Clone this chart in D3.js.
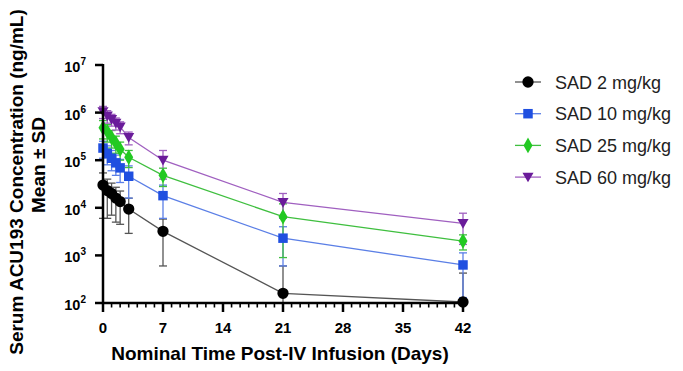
<!DOCTYPE html>
<html lang="en">
<head>
<meta charset="UTF-8">
<title>ACU193 SAD PK</title>
<script src="https://cdn.jsdelivr.net/npm/d3@7"></script>
<style>
  body { margin: 0; padding: 0; background: #fff; }
  svg text { font-family: Arial, "Liberation Sans", sans-serif; }
</style>
</head>
<body>
<div id="chart"></div>
<script>
// nominal days post infusion
var days = [0, 0.5, 1, 1.5, 2, 3, 7, 21, 42];

var seriesNames = ["SAD 2 mg/kg", "SAD 10 mg/kg", "SAD 25 mg/kg", "SAD 60 mg/kg"];

// mean serum concentration, ng/mL
var mean2  = [30000, 23000, 20000, 16000, 13500, 9400, 3200, 160, 105];
var mean10 = [180000, 140000, 110000, 88000, 69000, 46000, 18000, 2300, 630];
var mean25 = [480000, 400000, 300000, 230000, 170000, 115000, 48000, 6500, 2000];
var mean60 = [1050000, 850000, 720000, 600000, 500000, 300000, 100000, 13000, 4700];

// standard deviations
var sd2  = [24000, 17000, 13000, 11000, 9000, 6500, 2600, 440, 320];
var sd10 = [70000, 60000, 50000, 40000, 35000, 30000, 12000, 1700, 500];
var sd25 = [200000, 160000, 120000, 90000, 70000, 45000, 20000, 5600, 700];
var sd60 = [300000, 250000, 200000, 170000, 140000, 90000, 60000, 7000, 3000];

var xTicks = [0, 7, 14, 21, 28, 35, 42];
var yTicks = [2, 3, 4, 5, 6, 7]; // powers of ten

var W = 683, H = 371;
var svg = d3.select("#chart").append("svg")
    .attr("width", W)
    .attr("height", H);

var x = d3.scaleLinear().domain([0, 42]).range([103, 463]);
var y = d3.scaleLog().domain([100, 1e7]).range([303, 65]);

var styles = [
  {mark: "#000000", line: "#555555", shape: d3.symbolCircle, size: 100},
  {mark: "#1f4fe0", line: "#5b7fe6", shape: d3.symbolSquare, size: 90},
  {mark: "#22c922", line: "#3fbf3f", shape: d3.symbolDiamond, size: 70},
  {mark: "#6a1b9a", line: "#a060c0", shape: "tri", size: 80}
];
var means = [mean2, mean10, mean25, mean60];
var sds = [sd2, sd10, sd25, sd60];

function triDown(s) {
  var r = Math.sqrt(s) * 0.62;
  return "M" + (-r) + "," + (-r * 0.8) + "L" + r + "," + (-r * 0.8) + "L0," + (r * 0.95) + "Z";
}
function markPath(st) {
  if (st.shape === "tri") return triDown(st.size);
  return d3.symbol().type(st.shape).size(st.size)();
}

var plot = svg.append("g");

means.forEach(function(m, si) {
  var st = styles[si];
  var pts = days.map(function(d, i) { return {d: d, m: m[i], sd: sds[si][i]}; });
  var g = plot.append("g");

  g.append("path")
    .datum(pts)
    .attr("fill", "none")
    .attr("stroke", st.line)
    .attr("stroke-width", 1.3)
    .attr("d", d3.line().x(function(p) { return x(p.d); }).y(function(p) { return y(p.m); }));

  var bars = g.selectAll(".eb").data(pts).enter().append("g");
  bars.append("line")
    .attr("x1", function(p) { return x(p.d); })
    .attr("x2", function(p) { return x(p.d); })
    .attr("y1", function(p) { return y(p.m + p.sd); })
    .attr("y2", function(p) { return p.m - p.sd > 100 ? y(p.m - p.sd) : y(100); })
    .attr("stroke", st.line)
    .attr("stroke-width", 1.3);
  bars.append("line")
    .attr("x1", function(p) { return x(p.d) - 4; })
    .attr("x2", function(p) { return x(p.d) + 4; })
    .attr("y1", function(p) { return y(p.m + p.sd); })
    .attr("y2", function(p) { return y(p.m + p.sd); })
    .attr("stroke", st.line)
    .attr("stroke-width", 1.3);
  bars.filter(function(p) { return p.m - p.sd > 100; }).append("line")
    .attr("x1", function(p) { return x(p.d) - 4; })
    .attr("x2", function(p) { return x(p.d) + 4; })
    .attr("y1", function(p) { return y(p.m - p.sd); })
    .attr("y2", function(p) { return y(p.m - p.sd); })
    .attr("stroke", st.line)
    .attr("stroke-width", 1.3);
});

// axes
var xMinor = d3.range(0, 43, 1);
var xAxisG = svg.append("g").attr("transform", "translate(0,303)");
xAxisG.append("line").attr("x1", 103).attr("x2", 464).attr("stroke", "#000").attr("stroke-width", 2.5);
xAxisG.selectAll(".mn").data(xMinor).enter().append("line")
  .attr("x1", function(d) { return x(d); }).attr("x2", function(d) { return x(d); })
  .attr("y1", 0).attr("y2", function(d) { return d % 7 === 0 ? 9 : 4.5; })
  .attr("stroke", "#000").attr("stroke-width", function(d) { return d % 7 === 0 ? 2.5 : 1.6; });
xAxisG.selectAll(".tl").data(xTicks).enter().append("text")
  .attr("x", function(d) { return x(d); })
  .attr("y", 30)
  .attr("text-anchor", "middle")
  .attr("font-size", 15).attr("font-weight", "bold")
  .text(function(d) { return d; });

var yAxisG = svg.append("g").attr("transform", "translate(103,0)");
yAxisG.append("line").attr("y1", 64).attr("y2", 304).attr("stroke", "#000").attr("stroke-width", 2.5);
yAxisG.selectAll(".yt").data(yTicks).enter().append("line")
  .attr("x1", -8).attr("x2", 0)
  .attr("y1", function(p) { return y(Math.pow(10, p)); })
  .attr("y2", function(p) { return y(Math.pow(10, p)); })
  .attr("stroke", "#000").attr("stroke-width", 2.5);
var yl = yAxisG.selectAll(".yl").data(yTicks).enter().append("text")
  .attr("x", -17)
  .attr("y", function(p) { return y(Math.pow(10, p)) + 7; })
  .attr("text-anchor", "end")
  .attr("font-size", 14.5).attr("font-weight", "bold");
yl.append("tspan").text("10");
yl.append("tspan").attr("font-size", 10).attr("dy", -7).text(function(p) { return p; });

// markers on top
means.forEach(function(m, si) {
  var st = styles[si];
  plot.append("g").selectAll("path").data(days).enter().append("path")
    .attr("transform", function(d, i) { return "translate(" + x(d) + "," + y(m[i]) + ")"; })
    .attr("d", markPath(st))
    .attr("fill", st.mark);
});

// axis titles
svg.append("text")
  .attr("x", 280).attr("y", 360)
  .attr("text-anchor", "middle")
  .attr("font-size", 19).attr("font-weight", "bold")
  .text("Nominal Time Post-IV Infusion (Days)");

svg.append("text")
  .attr("transform", "translate(23,182) rotate(-90)")
  .attr("text-anchor", "middle")
  .attr("font-size", 19).attr("font-weight", "bold")
  .text("Serum ACU193 Concentration (ng/mL)");
svg.append("text")
  .attr("transform", "translate(45,165) rotate(-90)")
  .attr("text-anchor", "middle")
  .attr("font-size", 19).attr("font-weight", "bold")
  .text("Mean \u00b1 SD");

// legend
var leg = svg.append("g").attr("transform", "translate(515,82)");
seriesNames.forEach(function(name, i) {
  var st = styles[i];
  var row = leg.append("g").attr("transform", "translate(0," + (i * 31.7) + ")");
  row.append("line").attr("x1", 0).attr("x2", 26).attr("stroke", st.line).attr("stroke-width", 1.3);
  row.append("path").attr("transform", "translate(13,0)").attr("d", markPath(st)).attr("fill", st.mark);
  row.append("text").attr("x", 40).attr("y", 6.5)
    .attr("font-size", 18).attr("fill", "#222")
    .text(name);
});
</script>
</body>
</html>
